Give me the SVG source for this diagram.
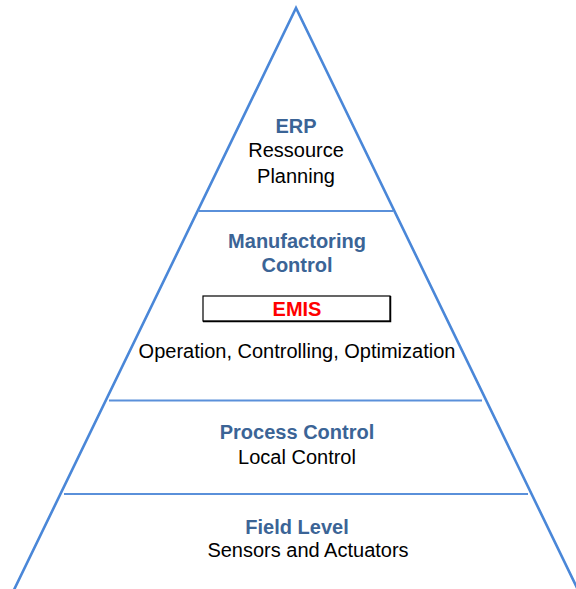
<svg xmlns="http://www.w3.org/2000/svg" width="576" height="589" viewBox="0 0 576 589">
<style>
.edge{fill:none;stroke:#4A87D8;stroke-width:2.6;stroke-linejoin:miter}
.sep{fill:none;stroke:#5A90DA;stroke-width:2}
text{font-family:"Liberation Sans",Arial,sans-serif;font-size:20px;text-anchor:middle}
.t{fill:#3B6496;font-weight:bold}
.b{fill:#000}
.r{fill:#FF0000;font-weight:bold}
</style>
<rect width="576" height="589" fill="#fff"/>
<g id="connectors">
<polyline class="edge" points="11,596 296,8 581,596"/>
<line class="sep" x1="199" y1="211" x2="393" y2="211"/>
<line class="sep" x1="109" y1="400.5" x2="482" y2="400.5"/>
<line class="sep" x1="64" y1="494" x2="528" y2="494"/>
</g>
<g id="erp">
<text class="t" x="296" y="133">ERP</text>
<text class="b" x="296" y="157">Ressource</text>
<text class="b" x="296" y="183">Planning</text>
</g>
<g id="manufacturing">
<text class="t" x="297" y="248">Manufactoring</text>
<text class="t" x="297" y="272">Control</text>
<text class="b" x="297" y="358">Operation, Controlling, Optimization</text>
</g>
<g id="emis">
<rect x="203" y="296" width="187" height="25" fill="#fff" stroke="#000" stroke-width="1.2"/>
<polyline points="390.5,296 390.5,321.5 203,321.5" fill="none" stroke="#000" stroke-width="1.5"/>
<text class="r" x="297" y="316">EMIS</text>
</g>
<g id="process">
<text class="t" x="297" y="439">Process Control</text>
<text class="b" x="297" y="464">Local Control</text>
</g>
<g id="field">
<text class="t" x="297" y="534">Field Level</text>
<text class="b" x="308" y="557">Sensors and Actuators</text>
</g>
</svg>
